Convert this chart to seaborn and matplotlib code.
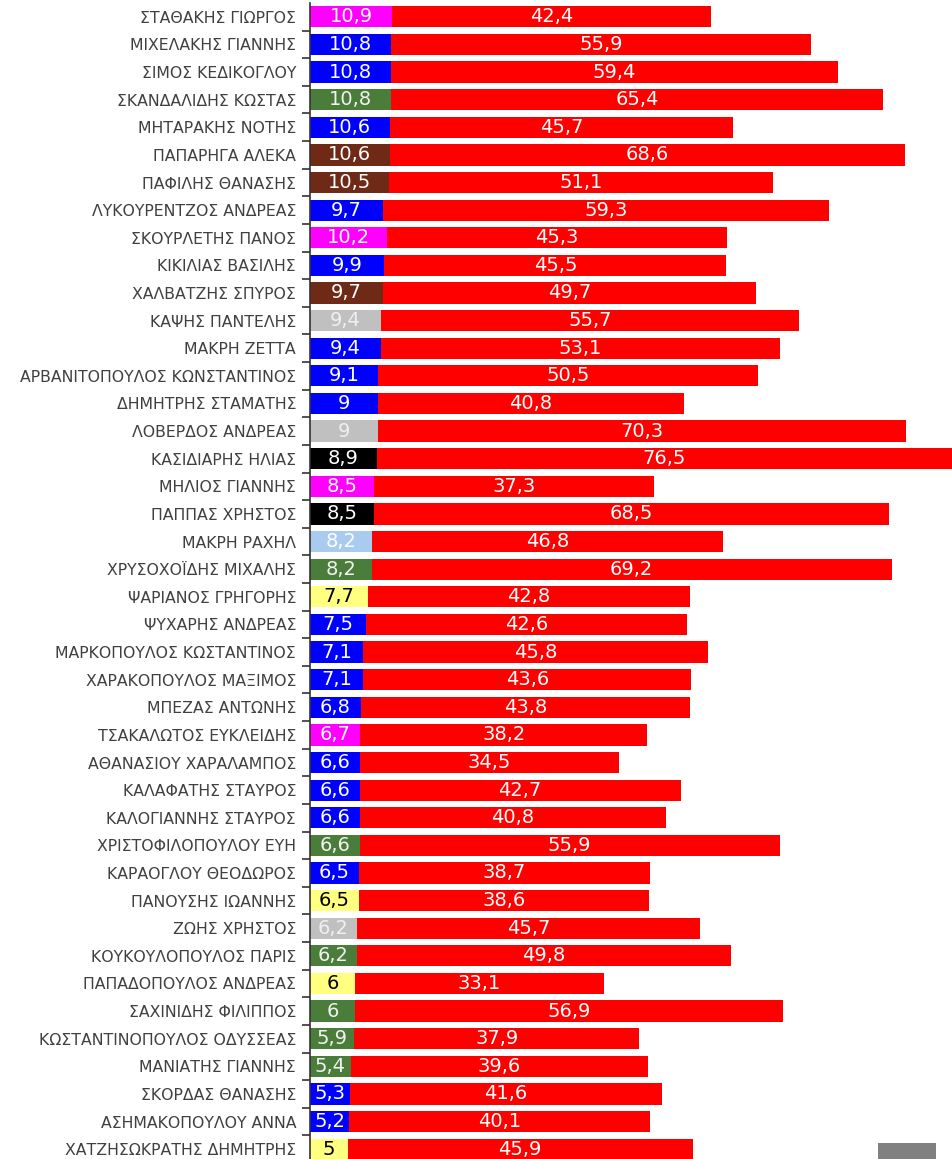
import numpy as np
import pandas as pd
import seaborn as sns
import matplotlib.pyplot as plt
from matplotlib.patches import Rectangle

# data
names = ['ΣΤΑΘΑΚΗΣ ΓΙΩΡΓΟΣ', 'ΜΙΧΕΛΑΚΗΣ ΓΙΑΝΝΗΣ', 'ΣΙΜΟΣ ΚΕΔΙΚΟΓΛΟΥ', 'ΣΚΑΝΔΑΛΙΔΗΣ ΚΩΣΤΑΣ',
         'ΜΗΤΑΡΑΚΗΣ ΝΟΤΗΣ', 'ΠΑΠΑΡΗΓΑ ΑΛΕΚΑ', 'ΠΑΦΙΛΗΣ ΘΑΝΑΣΗΣ', 'ΛΥΚΟΥΡΕΝΤΖΟΣ ΑΝΔΡΕΑΣ',
         'ΣΚΟΥΡΛΕΤΗΣ ΠΑΝΟΣ', 'ΚΙΚΙΛΙΑΣ ΒΑΣΙΛΗΣ', 'ΧΑΛΒΑΤΖΗΣ ΣΠΥΡΟΣ', 'ΚΑΨΗΣ ΠΑΝΤΕΛΗΣ',
         'ΜΑΚΡΗ ΖΕΤΤΑ', 'ΑΡΒΑΝΙΤΟΠΟΥΛΟΣ ΚΩΝΣΤΑΝΤΙΝΟΣ', 'ΔΗΜΗΤΡΗΣ ΣΤΑΜΑΤΗΣ', 'ΛΟΒΕΡΔΟΣ ΑΝΔΡΕΑΣ',
         'ΚΑΣΙΔΙΑΡΗΣ ΗΛΙΑΣ', 'ΜΗΛΙΟΣ ΓΙΑΝΝΗΣ', 'ΠΑΠΠΑΣ ΧΡΗΣΤΟΣ', 'ΜΑΚΡΗ ΡΑΧΗΛ',
         'ΧΡΥΣΟΧΟΪΔΗΣ ΜΙΧΑΛΗΣ', 'ΨΑΡΙΑΝΟΣ ΓΡΗΓΟΡΗΣ', 'ΨΥΧΑΡΗΣ ΑΝΔΡΕΑΣ', 'ΜΑΡΚΟΠΟΥΛΟΣ ΚΩΣΤΑΝΤΙΝΟΣ',
         'ΧΑΡΑΚΟΠΟΥΛΟΣ ΜΑΞΙΜΟΣ', 'ΜΠΕΖΑΣ ΑΝΤΩΝΗΣ', 'ΤΣΑΚΑΛΩΤΟΣ ΕΥΚΛΕΙΔΗΣ', 'ΑΘΑΝΑΣΙΟΥ ΧΑΡΑΛΑΜΠΟΣ',
         'ΚΑΛΑΦΑΤΗΣ ΣΤΑΥΡΟΣ', 'ΚΑΛΟΓΙΑΝΝΗΣ ΣΤΑΥΡΟΣ', 'ΧΡΙΣΤΟΦΙΛΟΠΟΥΛΟΥ ΕΥΗ', 'ΚΑΡΑΟΓΛΟΥ ΘΕΟΔΩΡΟΣ',
         'ΠΑΝΟΥΣΗΣ ΙΩΑΝΝΗΣ', 'ΖΩΗΣ ΧΡΗΣΤΟΣ', 'ΚΟΥΚΟΥΛΟΠΟΥΛΟΣ ΠΑΡΙΣ', 'ΠΑΠΑΔΟΠΟΥΛΟΣ ΑΝΔΡΕΑΣ',
         'ΣΑΧΙΝΙΔΗΣ ΦΙΛΙΠΠΟΣ', 'ΚΩΣΤΑΝΤΙΝΟΠΟΥΛΟΣ ΟΔΥΣΣΕΑΣ', 'ΜΑΝΙΑΤΗΣ ΓΙΑΝΝΗΣ', 'ΣΚΟΡΔΑΣ ΘΑΝΑΣΗΣ',
         'ΑΣΗΜΑΚΟΠΟΥΛΟΥ ΑΝΝΑ', 'ΧΑΤΖΗΣΩΚΡΑΤΗΣ ΔΗΜΗΤΡΗΣ']

first = [10.9, 10.8, 10.8, 10.8, 10.6, 10.6, 10.5, 9.7, 10.2, 9.9, 9.7, 9.4, 9.4, 9.1,
         9, 9, 8.9, 8.5, 8.5, 8.2, 8.2, 7.7, 7.5, 7.1, 7.1, 6.8, 6.7, 6.6, 6.6, 6.6,
         6.6, 6.5, 6.5, 6.2, 6.2, 6, 6, 5.9, 5.4, 5.3, 5.2, 5]

second = [42.4, 55.9, 59.4, 65.4, 45.7, 68.6, 51.1, 59.3, 45.3, 45.5, 49.7, 55.7, 53.1, 50.5,
          40.8, 70.3, 76.5, 37.3, 68.5, 46.8, 69.2, 42.8, 42.6, 45.8, 43.6, 43.8, 38.2, 34.5,
          42.7, 40.8, 55.9, 38.7, 38.6, 45.7, 49.8, 33.1, 56.9, 37.9, 39.6, 41.6, 40.1, 45.9]

party = ['mag', 'blue', 'blue', 'green', 'blue', 'brown', 'brown', 'blue', 'mag', 'blue',
         'brown', 'grey', 'blue', 'blue', 'blue', 'grey', 'black', 'mag', 'black', 'lblue',
         'green', 'yellow', 'blue', 'blue', 'blue', 'blue', 'mag', 'blue', 'blue', 'blue',
         'green', 'blue', 'yellow', 'grey', 'green', 'yellow', 'green', 'green', 'green', 'blue',
         'blue', 'yellow']

pal = {'mag': '#FF00FF', 'blue': '#0000FF', 'green': '#4A7D3A', 'brown': '#6E2A16',
       'grey': '#C0C0C0', 'black': '#000000', 'lblue': '#A9CBEF', 'yellow': '#FFFF80'}
txt_col = {'mag': 'white', 'blue': 'white', 'green': '#F2F2F2', 'brown': 'white',
           'grey': '#F0F0F0', 'black': 'white', 'lblue': 'white', 'yellow': 'black'}

df = pd.DataFrame({'name': names, 'first': first, 'second': second, 'party': party})
df['total'] = df['first'] + df['second']

sns.set_style('white')
plt.rcParams['font.family'] = ['DejaVu Sans']

fig = plt.figure(figsize=(9.53, 11.59), dpi=100)
W, H = 953, 1159
ax = fig.add_axes([310 / W, -4 / H, 642 / W, 1160 / H])

# red part drawn as total, coloured part on top
sns.barplot(data=df, y='name', x='total', color='#FF0000', saturation=1, width=0.77,
            linewidth=0, edgecolor='none', ax=ax, orient='h')
sns.barplot(data=df, y='name', x='first', hue='party', palette=pal, saturation=1, width=0.77,
            linewidth=0, edgecolor='none', dodge=False, legend=False, ax=ax, orient='h')

for i, r in df.iterrows():
    ax.text(r['first'] / 2, i, f"{r['first']:g}".replace('.', ','), ha='center', va='center',
            fontsize=14, color=txt_col[r['party']])
    ax.text(r['first'] + r['second'] / 2, i, f"{r['second']:g}".replace('.', ','), ha='center',
            va='center', fontsize=14, color='white')

ax.set_xlim(0, 85.42)
ax.set_ylim(len(names) - 0.5, -0.5)
ax.set_xlabel('')
ax.set_ylabel('')
ax.set_xticks([])
ax.set_yticks(range(len(names)))
ax.set_yticklabels(names, fontsize=11.3, color='#404040')
ax.set_yticks(np.arange(len(names)) + 0.5, minor=True)
ax.tick_params(axis='y', which='major', left=False, length=0, pad=10)
ax.tick_params(axis='y', which='minor', left=True, length=6, width=1.2, color='#333333',
               direction='out')
for s in ['top', 'right', 'bottom']:
    ax.spines[s].set_visible(False)
ax.spines['left'].set_color('#333333')
ax.spines['left'].set_linewidth(1.2)

fig.patches.append(Rectangle((878 / W, 0), 58 / W, 16 / H, transform=fig.transFigure,
                             facecolor='#808080', edgecolor='none'))

fig.savefig('out.png', dpi=100)
